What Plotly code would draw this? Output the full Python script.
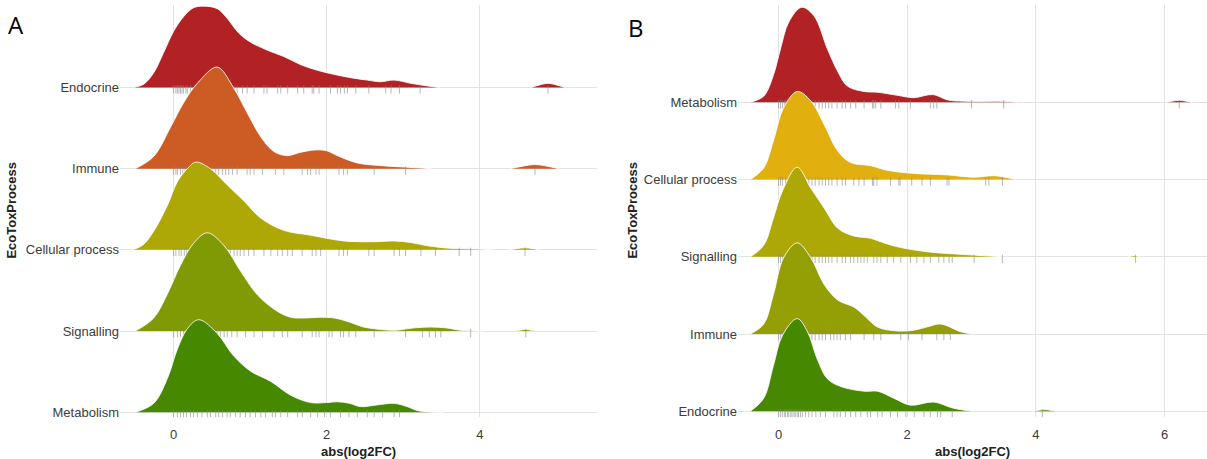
import plotly.graph_objects as go

# ---------------- Panel A (bottom -> top) ----------------
A_categories = ["Metabolism", "Signalling", "Cellular process", "Immune", "Endocrine"]
A_colors = ["#468900", "#7F9A05", "#ADA805", "#CC5C24", "#B22225"]

A_endocrine_x = [-0.52, -0.39, -0.26, -0.13, 0.0, 0.13, 0.26, 0.39, 0.57, 0.7, 0.85, 1.0, 1.22, 1.44, 1.66, 1.88, 2.1, 2.31, 2.53, 2.7, 2.88, 3.1, 3.3, 3.47]
A_endocrine_d = [0, 0.04, 0.18, 0.43, 0.69, 0.87, 0.98, 1.0, 0.97, 0.85, 0.67, 0.56, 0.46, 0.38, 0.28, 0.21, 0.16, 0.12, 0.09, 0.07, 0.09, 0.05, 0.02, 0]
A_endocrine_out_x = [4.67, 4.78, 4.89, 5.0, 5.11]
A_endocrine_out_d = [0, 0.03, 0.05, 0.03, 0]
A_endocrine_rug = [0.0, 0.03, 0.05, 0.07, 0.09, 0.11, 0.13, 0.16, 0.18, 0.22, 0.28, 0.33, 0.38, 0.43, 0.48, 0.53, 0.6, 0.66, 0.72, 0.79, 0.83, 0.9, 0.96, 1.05, 1.18, 1.22, 1.36, 1.4, 1.49, 1.62, 1.7, 1.81, 1.83, 1.9, 2.05, 2.14, 2.18, 2.23, 2.27, 2.38, 2.55, 2.77, 2.84, 2.95, 3.22, 4.89]

A_immune_x = [-0.5, -0.26, -0.04, 0.13, 0.31, 0.57, 0.78, 0.96, 1.14, 1.31, 1.49, 1.65, 1.85, 2.0, 2.14, 2.4, 2.67, 3.0, 3.36]
A_immune_d = [0, 0.15, 0.51, 0.81, 1.05, 1.25, 1.0, 0.69, 0.39, 0.21, 0.16, 0.2, 0.23, 0.22, 0.16, 0.07, 0.04, 0.02, 0]
A_immune_out_x = [4.4, 4.56, 4.72, 4.88, 5.03]
A_immune_out_d = [0, 0.03, 0.05, 0.03, 0]
A_immune_rug = [0.0, 0.03, 0.05, 0.09, 0.12, 0.15, 0.22, 0.3, 0.35, 0.44, 0.5, 0.55, 0.59, 0.64, 0.68, 0.72, 0.77, 0.83, 0.96, 1.0, 1.05, 1.16, 1.33, 1.44, 1.68, 1.75, 1.79, 1.86, 1.9, 2.16, 2.22, 2.27, 2.62, 3.03, 4.72]

A_cellular_x = [-0.54, -0.4, -0.26, -0.08, 0.05, 0.18, 0.29, 0.48, 0.7, 0.92, 1.14, 1.44, 1.79, 2.22, 2.6, 2.88, 3.1, 3.32, 3.6, 3.97, 4.17]
A_cellular_d = [0, 0.06, 0.23, 0.55, 0.84, 1.0, 1.08, 1.0, 0.8, 0.6, 0.39, 0.24, 0.18, 0.11, 0.1, 0.11, 0.09, 0.05, 0.02, 0.01, 0]
A_cellular_out_x = [4.38, 4.48, 4.59, 4.69, 4.78]
A_cellular_out_d = [0, 0.015, 0.025, 0.015, 0]
A_cellular_rug = [0.0, 0.03, 0.07, 0.1, 0.14, 0.17, 0.22, 0.31, 0.39, 0.47, 0.55, 0.61, 0.7, 0.74, 0.79, 0.83, 0.87, 0.92, 0.98, 1.05, 1.18, 1.27, 1.36, 1.42, 1.49, 1.55, 1.68, 1.81, 1.86, 1.92, 2.16, 2.22, 2.27, 2.55, 2.62, 2.88, 2.95, 3.03, 3.23, 3.42, 3.73, 3.88, 4.59]

A_signalling_x = [-0.5, -0.26, -0.08, 0.09, 0.26, 0.44, 0.66, 0.88, 1.1, 1.36, 1.53, 1.7, 1.9, 2.1, 2.3, 2.48, 2.7, 2.9, 3.15, 3.36, 3.55, 3.75, 4.05]
A_signalling_d = [0, 0.16, 0.46, 0.81, 1.08, 1.21, 1.05, 0.73, 0.44, 0.24, 0.17, 0.16, 0.17, 0.16, 0.11, 0.05, 0.02, 0.01, 0.04, 0.05, 0.04, 0.01, 0]
A_signalling_out_x = [4.45, 4.52, 4.6, 4.67, 4.74]
A_signalling_out_d = [0, 0.01, 0.02, 0.01, 0]
A_signalling_rug = [0.0, 0.05, 0.09, 0.13, 0.17, 0.22, 0.31, 0.39, 0.48, 0.52, 0.57, 0.61, 0.66, 0.7, 0.76, 0.83, 0.94, 1.05, 1.16, 1.31, 1.42, 1.49, 1.68, 1.81, 1.86, 1.9, 2.03, 2.07, 2.18, 2.22, 2.29, 2.38, 2.62, 3.03, 3.25, 3.34, 3.42, 3.49, 3.88, 4.6]

A_metabolism_x = [-0.5, -0.26, -0.08, 0.05, 0.18, 0.33, 0.57, 0.78, 1.0, 1.27, 1.53, 1.79, 2.0, 2.14, 2.3, 2.44, 2.65, 2.88, 3.05, 3.19, 3.53]
A_metabolism_d = [0, 0.11, 0.42, 0.78, 1.03, 1.14, 0.97, 0.7, 0.51, 0.38, 0.21, 0.12, 0.12, 0.13, 0.11, 0.07, 0.09, 0.11, 0.07, 0.02, 0]
A_metabolism_rug = [0.0, 0.05, 0.09, 0.13, 0.17, 0.22, 0.26, 0.31, 0.37, 0.44, 0.48, 0.55, 0.59, 0.64, 0.7, 0.74, 0.81, 0.87, 0.94, 1.0, 1.07, 1.14, 1.2, 1.29, 1.33, 1.4, 1.49, 1.62, 1.68, 1.79, 1.88, 1.97, 2.05, 2.18, 2.29, 2.4, 2.53, 2.62, 2.73, 2.88, 2.95]

# ---------------- Panel B (bottom -> top) ----------------
B_categories = ["Endocrine", "Immune", "Signalling", "Cellular process", "Metabolism"]
B_colors = ["#468900", "#949F06", "#ADA805", "#E1B00E", "#B22225"]

B_metabolism_x = [-0.44, -0.23, -0.08, 0.03, 0.16, 0.36, 0.55, 0.76, 0.92, 1.07, 1.33, 1.54, 1.85, 2.1, 2.4, 2.63, 2.88, 3.2, 3.5, 3.72]
B_metabolism_d = [0, 0.08, 0.35, 0.69, 1.04, 1.23, 1.12, 0.69, 0.4, 0.21, 0.14, 0.13, 0.09, 0.06, 0.1, 0.03, 0.015, 0.012, 0.012, 0]
B_metabolism_out_x = [6.02, 6.12, 6.23, 6.33, 6.43]
B_metabolism_out_d = [0, 0.015, 0.025, 0.015, 0]
B_metabolism_rug = [0.0, 0.03, 0.06, 0.09, 0.11, 0.16, 0.21, 0.26, 0.31, 0.37, 0.42, 0.47, 0.52, 0.57, 0.63, 0.68, 0.73, 0.78, 0.83, 0.91, 0.99, 1.04, 1.12, 1.2, 1.33, 1.46, 1.48, 1.51, 1.59, 1.82, 1.87, 2.05, 2.36, 2.41, 2.46, 3.0, 3.5, 6.23]

B_cellular_x = [-0.44, -0.23, -0.08, 0.08, 0.29, 0.5, 0.71, 0.92, 1.12, 1.43, 1.69, 2.1, 2.63, 3.04, 3.35, 3.69]
B_cellular_d = [0, 0.15, 0.5, 0.93, 1.14, 1.02, 0.71, 0.37, 0.22, 0.18, 0.12, 0.08, 0.06, 0.03, 0.05, 0]
B_cellular_rug = [0.0, 0.03, 0.06, 0.11, 0.16, 0.21, 0.26, 0.31, 0.37, 0.42, 0.47, 0.52, 0.57, 0.63, 0.68, 0.73, 0.78, 0.83, 0.91, 0.99, 1.04, 1.17, 1.25, 1.33, 1.46, 1.48, 1.53, 1.74, 1.87, 1.89, 2.07, 2.23, 2.36, 2.62, 2.65, 3.22, 3.27, 3.48]

B_signalling_x = [-0.44, -0.23, -0.08, 0.06, 0.29, 0.5, 0.71, 0.92, 1.17, 1.43, 1.64, 1.9, 2.37, 2.88, 3.5]
B_signalling_d = [0, 0.15, 0.5, 0.85, 1.16, 0.89, 0.63, 0.37, 0.27, 0.24, 0.18, 0.12, 0.06, 0.03, 0]
B_signalling_out_x = [5.43, 5.48, 5.53, 5.58, 5.63]
B_signalling_out_d = [0, 0.008, 0.015, 0.008, 0]
B_signalling_rug = [0.0, 0.03, 0.06, 0.11, 0.16, 0.21, 0.26, 0.31, 0.37, 0.42, 0.47, 0.52, 0.57, 0.63, 0.68, 0.73, 0.78, 0.83, 0.91, 0.99, 1.04, 1.12, 1.17, 1.23, 1.28, 1.33, 1.38, 1.48, 1.53, 1.59, 1.69, 1.79, 1.9, 2.05, 2.15, 2.26, 2.36, 2.49, 2.57, 2.65, 2.7, 3.04, 3.48, 5.55]

B_immune_x = [-0.44, -0.23, -0.08, 0.08, 0.29, 0.5, 0.71, 0.92, 1.17, 1.33, 1.54, 1.85, 2.1, 2.3, 2.52, 2.83, 3.02]
B_immune_d = [0, 0.13, 0.51, 0.99, 1.18, 0.99, 0.64, 0.44, 0.35, 0.24, 0.09, 0.04, 0.05, 0.09, 0.13, 0.03, 0]
B_immune_rug = [0.0, 0.03, 0.06, 0.11, 0.16, 0.21, 0.26, 0.31, 0.37, 0.42, 0.52, 0.57, 0.63, 0.68, 0.73, 0.81, 0.86, 0.91, 0.96, 1.04, 1.12, 1.33, 1.48, 1.59, 1.9, 2.02, 2.23, 2.46, 2.57, 2.67]

B_endocrine_x = [-0.44, -0.23, -0.08, 0.06, 0.29, 0.45, 0.6, 0.76, 0.97, 1.33, 1.54, 1.79, 2.05, 2.41, 2.72, 3.02]
B_endocrine_d = [0, 0.17, 0.59, 0.98, 1.2, 1.03, 0.68, 0.42, 0.32, 0.26, 0.26, 0.17, 0.08, 0.12, 0.04, 0]
B_endocrine_out_x = [3.95, 4.05, 4.13, 4.22, 4.32]
B_endocrine_out_d = [0, 0.015, 0.02, 0.015, 0]
B_endocrine_rug = [0.0, 0.03, 0.06, 0.09, 0.11, 0.14, 0.16, 0.19, 0.21, 0.24, 0.26, 0.29, 0.31, 0.34, 0.37, 0.42, 0.47, 0.52, 0.58, 0.65, 0.73, 0.86, 0.91, 0.96, 1.04, 1.12, 1.2, 1.28, 1.38, 1.43, 1.54, 1.61, 1.74, 1.85, 1.98, 2.11, 2.26, 2.36, 2.47, 2.52, 2.7, 4.1]

x_ticks_A = [0, 2, 4]
x_ticks_B = [0, 2, 4, 6]

# ridges listed bottom -> top: (main x, main d, outlier x, outlier d, rug)
A_ridges = [
    (A_metabolism_x, A_metabolism_d, None, None, A_metabolism_rug),
    (A_signalling_x, A_signalling_d, A_signalling_out_x, A_signalling_out_d, A_signalling_rug),
    (A_cellular_x, A_cellular_d, A_cellular_out_x, A_cellular_out_d, A_cellular_rug),
    (A_immune_x, A_immune_d, A_immune_out_x, A_immune_out_d, A_immune_rug),
    (A_endocrine_x, A_endocrine_d, A_endocrine_out_x, A_endocrine_out_d, A_endocrine_rug),
]
B_ridges = [
    (B_endocrine_x, B_endocrine_d, B_endocrine_out_x, B_endocrine_out_d, B_endocrine_rug),
    (B_immune_x, B_immune_d, None, None, B_immune_rug),
    (B_signalling_x, B_signalling_d, B_signalling_out_x, B_signalling_out_d, B_signalling_rug),
    (B_cellular_x, B_cellular_d, None, None, B_cellular_rug),
    (B_metabolism_x, B_metabolism_d, B_metabolism_out_x, B_metabolism_out_d, B_metabolism_rug),
]

fig = go.Figure()
OUTLINE = "rgba(255,255,255,0.85)"
RUG = "rgba(135,135,135,0.6)"


def add_area(xs, ds, base, color, xa, ya):
    fig.add_trace(go.Scatter(x=[xs[0], xs[-1]], y=[base, base], mode="lines",
                             line=dict(width=0, color=color), hoverinfo="skip",
                             showlegend=False, xaxis=xa, yaxis=ya))
    fig.add_trace(go.Scatter(x=xs, y=[base + d for d in ds], mode="lines",
                             line=dict(width=1, color=OUTLINE, shape="spline", smoothing=1.0),
                             fill="tonexty", fillcolor=color, hoverinfo="skip",
                             showlegend=False, xaxis=xa, yaxis=ya))


def add_panel(ridges, colors, xa, ya, rug_off):
    # draw from top (back) to bottom (front)
    for i in reversed(range(len(ridges))):
        xs, ds, ox, od, rug = ridges[i]
        add_area(xs, ds, i, colors[i], xa, ya)
        if ox is not None:
            add_area(ox, od, i, colors[i], xa, ya)
        fig.add_trace(go.Scatter(x=rug, y=[i - rug_off] * len(rug), mode="markers",
                                 marker=dict(symbol="line-ns", size=6,
                                             line=dict(width=1, color=RUG)),
                                 hoverinfo="skip", showlegend=False, xaxis=xa, yaxis=ya))


add_panel(A_ridges, A_colors, "x", "y", 0.025)
add_panel(B_ridges, B_colors, "x2", "y2", 0.026)

GRID = "#e3e3e3"
tickfont = dict(family="Liberation Sans, Arial, sans-serif", size=13, color="#3c3c3c")
ydom = [39 / 459, 454 / 459]

fig.update_layout(
    width=1207, height=459,
    margin=dict(l=0, r=0, t=0, b=0),
    paper_bgcolor="white", plot_bgcolor="white",
    showlegend=False,
    xaxis=dict(domain=[120 / 1207, 597 / 1207], range=[-0.70, 5.53], tickvals=x_ticks_A,
               showgrid=True, gridcolor=GRID, gridwidth=1.2, zeroline=False, showline=False,
               ticks="outside", ticklen=5, tickcolor="rgba(0,0,0,0)", tickfont=tickfont),
    yaxis=dict(domain=ydom, range=[-0.061, 5.015], tickvals=list(range(len(A_categories))),
               ticktext=A_categories, showgrid=True, gridcolor=GRID, gridwidth=1.2,
               zeroline=False, showline=False, tickfont=tickfont, anchor="x"),
    xaxis2=dict(domain=[738 / 1207, 1.0], range=[-0.63, 6.66], tickvals=x_ticks_B,
                showgrid=True, gridcolor=GRID, gridwidth=1.2, zeroline=False, showline=False,
                ticks="outside", ticklen=5, tickcolor="rgba(0,0,0,0)", tickfont=tickfont,
                anchor="y2"),
    yaxis2=dict(domain=ydom, range=[-0.077, 5.26], tickvals=list(range(len(B_categories))),
                ticktext=B_categories, showgrid=True, gridcolor=GRID, gridwidth=1.2,
                zeroline=False, showline=False, tickfont=tickfont, anchor="x2"),
)

title_font = dict(family="Liberation Sans, Arial, sans-serif", size=13, color="#222222")
ann = [
    dict(text="<b>abs(log2FC)</b>", x=(120 + 597) / 2 / 1207, y=5 / 459, xref="paper", yref="paper",
         xanchor="center", yanchor="middle", showarrow=False, font=title_font),
    dict(text="<b>abs(log2FC)</b>", x=(738 + 1207) / 2 / 1207, y=5 / 459, xref="paper", yref="paper",
         xanchor="center", yanchor="middle", showarrow=False, font=title_font),
    dict(text="<b>EcoToxProcess</b>", x=12 / 1207, y=(459 - 212) / 459, xref="paper", yref="paper",
         xanchor="center", yanchor="middle", textangle=-90, showarrow=False, font=title_font),
    dict(text="<b>EcoToxProcess</b>", x=633 / 1207, y=(459 - 212) / 459, xref="paper", yref="paper",
         xanchor="center", yanchor="middle", textangle=-90, showarrow=False, font=title_font),
    dict(text="A", x=16 / 1207, y=(459 - 25) / 459, xref="paper", yref="paper",
         xanchor="center", yanchor="middle", showarrow=False,
         font=dict(family="Open Sans, Liberation Sans, sans-serif", size=24, color="black")),
    dict(text="B", x=636 / 1207, y=(459 - 28) / 459, xref="paper", yref="paper",
         xanchor="center", yanchor="middle", showarrow=False,
         font=dict(family="Open Sans, Liberation Sans, sans-serif", size=24, color="black")),
]
fig.update_layout(annotations=ann)

fig.write_html("out.html")
